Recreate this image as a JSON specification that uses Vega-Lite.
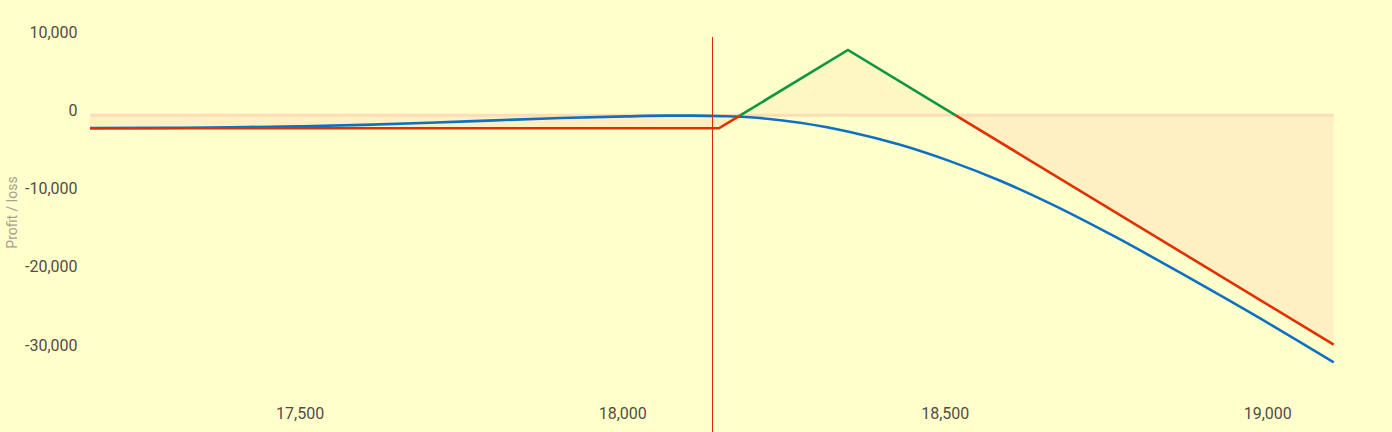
{
  "$schema": "https://vega.github.io/schema/vega-lite/v6.json",
  "width": 1245,
  "height": 432,
  "autosize": {"type": "none"},
  "padding": {"left": 90, "right": 57, "top": 0, "bottom": 0},
  "background": "#FFFFCC",
  "config": {
    "view": {"stroke": null},
    "font": "Roboto",
    "axis": {"labelFont": "Roboto", "titleFont": "Roboto"}
  },
  "datasets": {
    "payoff": [
      {"p": 17175, "v": -1650, "seg": "a", "kind": "loss"},
      {"p": 18150, "v": -1650, "seg": "a", "kind": "loss"},
      {"p": 18183, "v": 0, "seg": "a", "kind": "loss"},
      {"p": 18183, "v": 0, "seg": "b", "kind": "profit"},
      {"p": 18350, "v": 8350, "seg": "b", "kind": "profit"},
      {"p": 18517, "v": 0, "seg": "b", "kind": "profit"},
      {"p": 18517, "v": 0, "seg": "c", "kind": "loss"},
      {"p": 19103, "v": -29300, "seg": "c", "kind": "loss"}
    ],
    "today": [
      {"p": 17175, "v": -1640},
      {"p": 17293, "v": -1600},
      {"p": 17395, "v": -1520},
      {"p": 17497, "v": -1400},
      {"p": 17599, "v": -1220},
      {"p": 17701, "v": -950},
      {"p": 17803, "v": -640},
      {"p": 17905, "v": -350},
      {"p": 18007, "v": -130},
      {"p": 18069, "v": -40},
      {"p": 18109, "v": -40},
      {"p": 18160, "v": -120},
      {"p": 18198, "v": -250},
      {"p": 18276, "v": -950},
      {"p": 18353, "v": -2128},
      {"p": 18431, "v": -3762},
      {"p": 18508, "v": -5852},
      {"p": 18586, "v": -8360},
      {"p": 18663, "v": -11248},
      {"p": 18764, "v": -15505},
      {"p": 18880, "v": -20806},
      {"p": 18989, "v": -25947},
      {"p": 19103, "v": -31547}
    ],
    "zero": [{"p1": 17175, "p2": 19103, "v": 0}],
    "spot": [{"p": 18140, "top": 10000, "bottom": -40450}]
  },
  "encoding": {
    "x": {
      "field": "p",
      "type": "quantitative",
      "scale": {"domain": [17175, 19105], "nice": false, "zero": false},
      "axis": {
        "title": null,
        "grid": false,
        "domain": false,
        "ticks": false,
        "values": [17500, 18000, 18500, 19000],
        "format": ",d",
        "labelFontSize": 16,
        "labelColor": "#544c44",
        "labelPadding": 0,
        "offset": -27
      }
    },
    "y": {
      "field": "v",
      "type": "quantitative",
      "scale": {"domain": [-40450, 14730], "nice": false, "zero": false},
      "axis": {
        "title": "Profit / loss",
        "titleFontSize": 14,
        "titleFontWeight": "normal",
        "titleColor": "#a8a092",
        "titleX": -78,
        "titleY": 212,
        "titleAngle": -90,
        "titleBaseline": "middle",
        "grid": false,
        "domain": false,
        "ticks": false,
        "values": [-30000, -20000, -10000, 0, 10000],
        "labelExpr": "(datum.value < 0 ? '-' : '') + format(abs(datum.value), ',')",
        "labelFontSize": 16,
        "labelColor": "#544c44",
        "labelPadding": 13,
        "labelOffset": -5
      }
    }
  },
  "resolve": {"scale": {"color": "independent"}},
  "layer": [
    {
      "data": {"name": "spot"},
      "mark": {"type": "rule", "color": "#F5D2B2", "strokeWidth": 1},
      "encoding": {
        "x": {"field": "p", "type": "quantitative"},
        "y": {"datum": 14730},
        "y2": {"datum": 10000}
      }
    },
    {
      "data": {"name": "payoff"},
      "mark": {"type": "area", "opacity": 1},
      "encoding": {
        "y2": {"datum": 0},
        "detail": {"field": "seg"},
        "fill": {
          "field": "kind",
          "type": "nominal",
          "scale": {"domain": ["loss", "profit"], "range": ["#FFF0C4", "#FDF7C2"]},
          "legend": null
        }
      }
    },
    {
      "data": {"name": "zero"},
      "mark": {"type": "rule", "color": "#FBDDB6", "strokeWidth": 3},
      "encoding": {
        "x": {"field": "p1", "type": "quantitative"},
        "x2": {"field": "p2"},
        "y": {"field": "v", "type": "quantitative"}
      }
    },
    {
      "data": {"name": "today"},
      "mark": {"type": "line", "color": "#1070C0", "strokeWidth": 2.6, "interpolate": "monotone"},
      "encoding": {}
    },
    {
      "data": {"name": "payoff"},
      "mark": {"type": "line", "strokeWidth": 2.6},
      "encoding": {
        "detail": {"field": "seg"},
        "stroke": {
          "field": "kind",
          "type": "nominal",
          "scale": {"domain": ["loss", "profit"], "range": ["#E03000", "#109640"]},
          "legend": null
        }
      }
    },
    {
      "data": {"name": "spot"},
      "mark": {"type": "rule", "color": "#E02800", "strokeWidth": 1},
      "encoding": {
        "x": {"field": "p", "type": "quantitative"},
        "y": {"field": "top", "type": "quantitative"},
        "y2": {"field": "bottom"}
      }
    }
  ]
}
